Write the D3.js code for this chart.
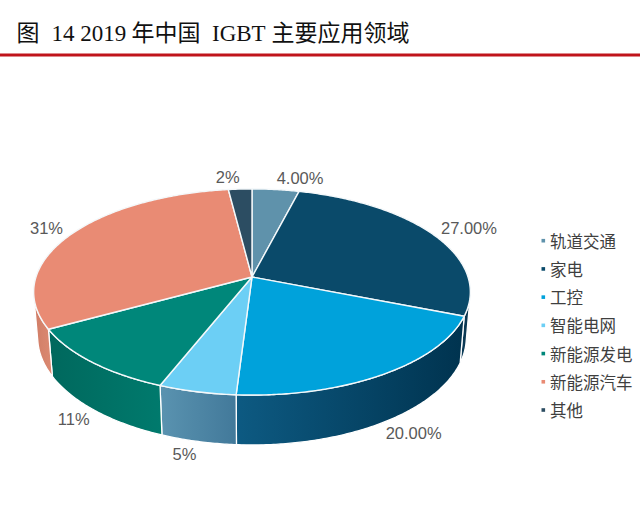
<!DOCTYPE html>
<html>
<head>
<meta charset="utf-8">
<script src="https://cdn.jsdelivr.net/npm/d3@7"></script>
<style>
  html, body { margin: 0; padding: 0; background: #fff; }
  svg { display: block; }
</style>
</head>
<body>
<svg id="chart" width="640" height="525"></svg>
<script>
// ---------------- data ----------------
const categories = ["轨道交通", "家电", "工控", "智能电网", "新能源发电", "新能源汽车", "其他"];
const shares = [4, 27, 20, 5, 11, 31, 2];
const shareLabels = ["4.00%", "27.00%", "20.00%", "5%", "11%", "31%", "2%"];

// ---------------- style ----------------
const topColors  = ["#5f92ab", "#0a4a6a", "#00a2db", "#6ccff5", "#00877a", "#e98b74", "#2c4d62"];
const wallLeft   = ["#4a7a92", "#0d3f5c", "#0d5a82", "#5a93b0", "#00685d", "#d07d66", "#20394a"];
const wallRight  = ["#3c6a82", "#08314a", "#00334f", "#42799a", "#007a6d", "#dc8a72", "#1a3040"];

const svg = d3.select("#chart");

// ---------------- title ----------------
const title = svg.append("text").attr("y", 41).attr("font-size", 23).attr("fill", "#111");
const cjk = "'Noto Sans CJK SC', 'Noto Sans', sans-serif";
const serif = "'Liberation Serif', 'DejaVu Serif', serif";
[["图", 16.5, cjk], ["14 2019", 51.5, serif], ["年中国", 131.5, cjk], ["IGBT", 212, serif], ["主要应用领域", 271.5, cjk]]
  .forEach(([t, x, f]) => title.append("tspan").attr("x", x).attr("font-family", f).text(t));
svg.append("rect").attr("x", 0).attr("y", 53.5).attr("width", 640).attr("height", 3).attr("fill", "#c0141b");

// ---------------- 3D perspective pie ----------------
const cx = 252, cy = 277;          // projected centre of the pie top
const D = 1, R = 0.1646, f = 1312.3;
const sphi = 0.467, cphi = Math.sqrt(1 - sphi * sphi);
const T = 0.0394;                   // thickness

function proj(theta, rf, yUp) {
  const r = R * rf;
  const x = r * Math.sin(theta), d = r * Math.cos(theta);
  const z = D + d * cphi - yUp * sphi;
  const v = d * sphi + yUp * cphi;
  return [cx + f * x / z, cy - f * v / z];
}

const pie = d3.pie().sort(null).value(d => d)(shares);
const thMin = Math.acos(-R / (D * cphi));
const thMax = 2 * Math.PI - thMin;
const line = d3.line();
const defs = svg.append("defs");

function sampleArc(a0, a1, rf, yUp) {
  const n = Math.max(2, Math.ceil((a1 - a0) / 0.01));
  return d3.range(n + 1).map(i => proj(a0 + (a1 - a0) * i / n, rf, yUp));
}

const walls = svg.append("g");
pie.forEach((p, i) => {
  const a0 = Math.max(p.startAngle, thMin), a1 = Math.min(p.endAngle, thMax);
  if (a1 <= a0) return;
  const top = sampleArc(a0, a1, 1, 0);
  const bot = sampleArc(a0, a1, 1, -T).reverse();
  const pts = top.concat(bot);
  const xs = pts.map(q => q[0]);
  const g = defs.append("linearGradient").attr("id", "wg" + i)
    .attr("gradientUnits", "userSpaceOnUse")
    .attr("x1", d3.min(xs)).attr("x2", d3.max(xs)).attr("y1", 0).attr("y2", 0);
  g.append("stop").attr("offset", 0).attr("stop-color", wallLeft[i]);
  g.append("stop").attr("offset", 1).attr("stop-color", wallRight[i]);
  walls.append("path").attr("d", line(pts) + "Z")
    .attr("fill", `url(#wg${i})`).attr("stroke", "#fff").attr("stroke-width", 1.3)
    .attr("stroke-linejoin", "round");
});

const tops = svg.append("g");
pie.forEach((p, i) => {
  const pts = [[cx, cy]].concat(sampleArc(p.startAngle, p.endAngle, 1, 0));
  tops.append("path").attr("d", line(pts) + "Z")
    .attr("fill", topColors[i]).attr("stroke", "#f4f8fa").attr("stroke-width", 1.4)
    .attr("stroke-linejoin", "round");
});

// ---------------- data labels ----------------
const lab = svg.append("g").attr("font-family", "'Liberation Sans', Arial, sans-serif")
  .attr("font-size", 16.5).attr("fill", "#595959");
pie.forEach((p, i) => {
  const m = (p.startAngle + p.endAngle) / 2;
  const front = Math.cos(m) < 0;
  const pt = front ? proj(m, 1.03, -T) : proj(m, 1.05, 0);
  const t = lab.append("text").attr("text-anchor", "middle").attr("dominant-baseline", "central").text(shareLabels[i]);
  const w = t.node().getComputedTextLength();
  const x = pt[0] + Math.sign(Math.sin(m)) * w / 2;
  const y = pt[1] - Math.cos(m) * 8;
  t.attr("x", x).attr("y", y);
});

// ---------------- legend ----------------
const legY = d3.scalePoint().domain(categories).range([240.7, 410]);
const leg = svg.append("g").attr("font-family", cjk).attr("font-size", 16.5).attr("fill", "#3f3f3f");
categories.forEach((c, i) => {
  const y = legY(c);
  leg.append("rect").attr("x", 541.5).attr("y", y - 1.8).attr("width", 3.6).attr("height", 3.6).attr("fill", topColors[i]);
  leg.append("text").attr("x", 550).attr("y", y).attr("dominant-baseline", "central").text(c);
});
</script>
</body>
</html>
